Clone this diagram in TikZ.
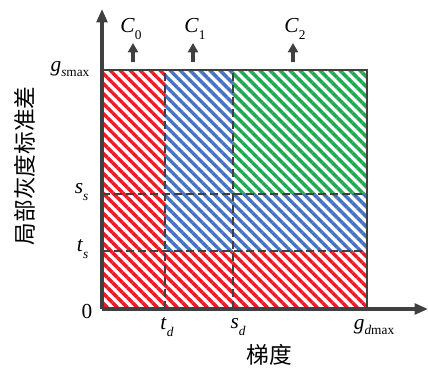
\documentclass[tikz,border=0pt]{standalone}
\usepackage{fontspec}
\setmainfont{Liberation Serif}
\newfontfamily\cjk{Noto Sans CJK SC}
\usetikzlibrary{arrows.meta,patterns.meta}
\definecolor{axisgray}{RGB}{64,64,64}
\definecolor{hred}{RGB}{237,28,36}
\definecolor{hblue}{RGB}{68,114,196}
\definecolor{hgreen}{RGB}{30,170,80}
\tikzstyle{axis}=[line width=2.4pt, draw=axisgray, -{Triangle[length=10pt,width=8pt]}]
\tikzstyle{hatch}=[pattern={Lines[angle=-45,distance=5.3pt,line width=2.6pt]}]
\tikzstyle{cls}=[line width=2.4pt, draw=axisgray, -{Triangle[length=7pt,width=7.5pt]}]
\tikzstyle{bound}=[draw=axisgray, line width=0.9pt, dash pattern=on 6pt off 3pt]
\tikzstyle{lab}=[font=\fontsize{16}{18}\selectfont, inner sep=1pt]
\newcommand{\sublab}[2]{\textit{#1}\raisebox{-0.8ex}{\fontsize{10}{12}\selectfont #2}}

\begin{document}
\begin{tikzpicture}[x=0.75pt, y=0.75pt]
    \useasboundingbox (-102,-61) rectangle (326,309);

    % hatched classes
    \fill[hatch, pattern color=hred] (0,0) rectangle (63,239);
    \fill[hatch, pattern color=hred] (63,0) rectangle (265,58);
    \fill[hatch, pattern color=hblue] (63,58) rectangle (131,239);
    \fill[hatch, pattern color=hblue] (131,58) rectangle (265,115);
    \fill[hatch, pattern color=hgreen] (131,115) rectangle (265,239);

    \coordinate (O) at (0,0);
    \coordinate (ytip) at (0,300);
    \coordinate (xtip) at (326,0);
    \coordinate (gs) at (0,239);
    \coordinate (ss) at (0,115);
    \coordinate (ts) at (0,58);
    \coordinate (td) at (63,0);
    \coordinate (sd) at (131,0);
    \coordinate (gd) at (265,0);
    \coordinate (corner) at (265,239);

    \draw[draw=axisgray, line width=0.9pt] (gs) -- (corner) -- (gd);
    \draw[bound] (td) -- (td |- gs);
    \draw[bound] (sd) -- (sd |- gs);
    \draw[bound] (ts) -- (ts -| gd);
    \draw[bound] (ss) -- (ss -| gd);

    \draw[axis] (O) -- (ytip);
    \draw[axis] (O) -- (xtip);

    % axis labels
    \node[lab, anchor=east] (Lgs) at (-11,240) {\textit{g}\raisebox{-0.6ex}{\fontsize{10}{12}\selectfont\textit{s}max}};
    \node[lab, anchor=east] (Lss) at (-12,117) {\sublab{s}{\textit{s}}};
    \node[lab, anchor=east] (Lts) at (-12,60) {\sublab{t}{\textit{s}}};
    \node[lab, anchor=east] (L0) at (-8,-3) {0};
    \node[lab] (Ltd) at (65,-18) {\sublab{t}{\textit{d}}};
    \node[lab] (Lsd) at (136,-18) {\sublab{s}{\textit{d}}};
    \node[lab] (Lgd) at (272,-18) {\textit{g}\raisebox{-0.6ex}{\fontsize{10}{12}\selectfont\textit{d}max}};
    \node[font=\cjk\fontsize{17}{20}\selectfont] (xlabel) at (167,-46) {梯度};
    \node[font=\cjk\fontsize{17}{20}\selectfont, rotate=90] (ylabel) at (-77,143) {局部灰度标准差};

    % classes
    \node[lab] (C0) at (29,280) {\sublab{C}{0}};
    \node[lab] (C1) at (93,280) {\sublab{C}{1}};
    \node[lab] (C2) at (193,280) {\sublab{C}{2}};
    \coordinate (c0b) at (31,247);
    \coordinate (c0t) at (31,266);
    \coordinate (c1b) at (91,247);
    \coordinate (c1t) at (91,266);
    \coordinate (c2b) at (191,247);
    \coordinate (c2t) at (191,266);
    \draw[cls] (c0b) -- (c0t);
    \draw[cls] (c1b) -- (c1t);
    \draw[cls] (c2b) -- (c2t);

\end{tikzpicture}
\end{document}
